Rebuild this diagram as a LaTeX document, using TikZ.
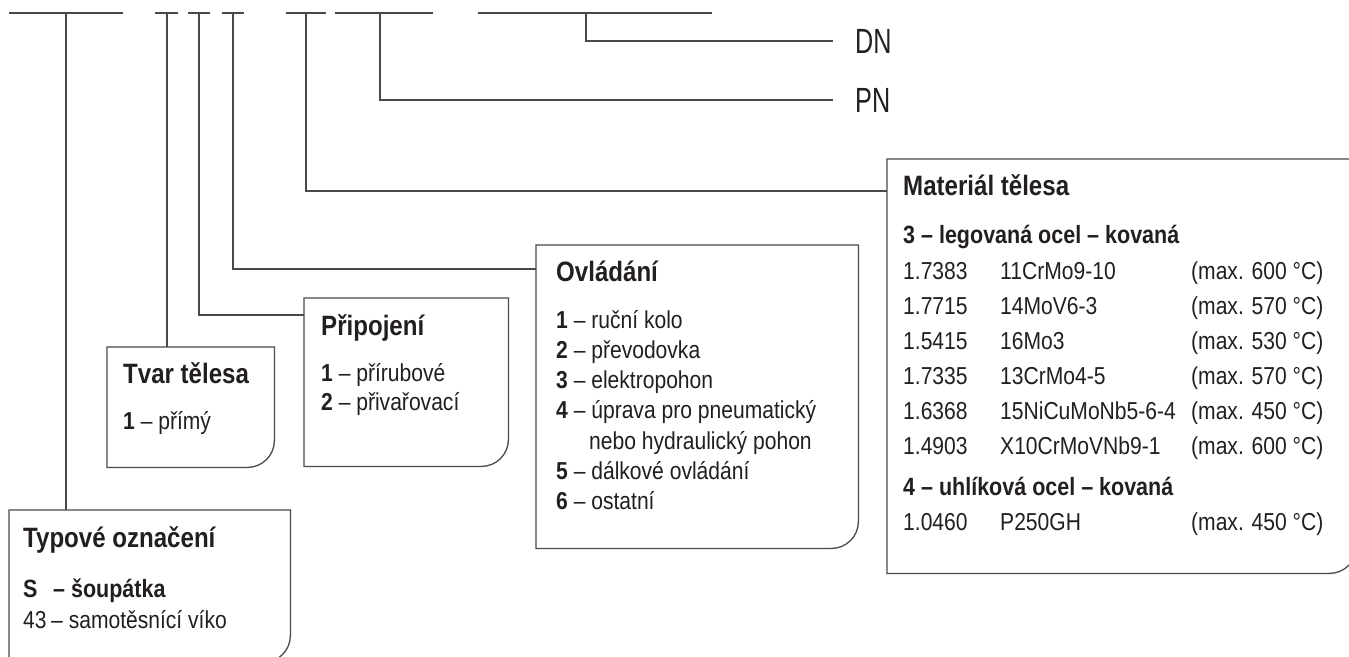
\documentclass[tikz,border=0pt]{standalone}
\usepackage{fontspec}
\setmainfont[FakeStretch=0.86]{Liberation Sans}
\newfontfamily\dnfont[FakeStretch=0.72]{Liberation Sans}
\definecolor{ink}{HTML}{231F20}
\definecolor{wire}{HTML}{4A4A4A}
\begin{document}
\begin{tikzpicture}[x=1pt,y=-1pt,
  wireline/.style={draw=wire,line width=1.3pt},
  boxarea/.style={draw=none,inner sep=0pt,anchor=north west},
  body/.style={font=\fontsize{24.5}{29}\selectfont,text=ink,anchor=base west,inner sep=0pt},
  headline/.style={font=\fontsize{28}{33}\selectfont\bfseries,text=ink,anchor=base west,inner sep=0pt},
  subhead/.style={font=\fontsize{25}{30}\selectfont\bfseries,text=ink,anchor=base west,inner sep=0pt},
  bigcode/.style={font=\dnfont\fontsize{35}{40}\selectfont,text=ink,anchor=base west,inner sep=0pt}]
\useasboundingbox (0,0) rectangle (1349,656);
\fill[white] (0,0) rectangle (1349,656);

% top line segments
\foreach \n/\l/\r/\t in {A/9/123/66,B/155/178/167,C/188/210/199,D/222/244/233,E/286/326/306,F/335/433/380,G/478/712/586}{
  \coordinate (seg\n l) at (\l,13);
  \coordinate (seg\n r) at (\r,13);
  \coordinate (tap\n) at (\t,13);
  \draw[wireline] (seg\n l) -- (seg\n r);
}

% box areas
\node[boxarea,minimum width=281pt,minimum height=152pt] (typ) at (9,510) {};
\node[boxarea,minimum width=167pt,minimum height=120pt] (tvar) at (107,347) {};
\node[boxarea,minimum width=204pt,minimum height=168pt] (pri) at (304,298) {};
\node[boxarea,minimum width=322pt,minimum height=303pt] (ovl) at (536,245) {};
\node[boxarea,minimum width=469pt,minimum height=414pt] (mat) at (887,159) {};

% box outlines with rounded lower right corner
\foreach \b in {typ,tvar,pri,ovl,mat}{
  \draw[wireline] (\b.north west) -- (\b.north east) -- ([yshift=27pt]\b.south east)
    .. controls ([yshift=12pt]\b.south east) and ([xshift=-12pt]\b.south east) ..
    ([xshift=-27pt]\b.south east) -- (\b.south west) -- cycle;
}

% connector end points
\coordinate (priin) at (304,315);
\coordinate (ovlin) at (536,269);
\coordinate (matin) at (887,191);
\coordinate (pnend) at (833,100);
\coordinate (dnend) at (833,41);

\draw[wireline] (tapA) -- (tapA |- typ.north);
\draw[wireline] (tapB) -- (tapB |- tvar.north);
\draw[wireline] (tapC) |- (priin);
\draw[wireline] (tapD) |- (ovlin);
\draw[wireline] (tapE) |- (matin);
\draw[wireline] (tapF) |- (pnend);
\draw[wireline] (tapG) |- (dnend);

\node[bigcode] (dn) at (855,53) {DN};
\node[bigcode] (pn) at (855,112) {PN};

% Typove oznaceni
\node[headline] (typt) at (23,547) {Typové označení};
\node[subhead] (typs) at (23,597) {S};
\node[subhead] (typsd) at (53,597) {– šoupátka};
\node[body] (typ43) at (23,628) {43};
\node[body] (typ43d) at (51,628) {– samotěsnící víko};

% Tvar telesa
\node[headline] (tvart) at (123,383) {Tvar tělesa};
\node[body] (tvar1) at (123,429) {\textbf{1} – přímý};

% Pripojeni
\node[headline] (prit) at (321,335) {Připojení};
\node[body] (pri1) at (321,381) {\textbf{1} – přírubové};
\node[body] (pri2) at (321,410) {\textbf{2} – přivařovací};

% Ovladani
\node[headline] (ovlt) at (556,281) {Ovládání};
\node[body] (ovl1) at (556,328) {\textbf{1} – ruční kolo};
\node[body] (ovl2) at (556,358) {\textbf{2} – převodovka};
\node[body] (ovl3) at (556,388) {\textbf{3} – elektropohon};
\node[body] (ovl4) at (556,418) {\textbf{4} – úprava pro pneumatický};
\node[body] (ovl4b) at (589,449) {nebo hydraulický pohon};
\node[body] (ovl5) at (556,479) {\textbf{5} – dálkové ovládání};
\node[body] (ovl6) at (556,509) {\textbf{6} – ostatní};

% Material telesa
\node[headline] (matt) at (903,195) {Materiál tělesa};
\node[subhead] (mats3) at (903,243) {3 – legovaná ocel – kovaná};
\foreach \i/\y/\a/\c/\t in {1/279/1.7383/11CrMo9-10/600,2/314/1.7715/14MoV6-3/570,3/349/1.5415/16Mo3/530,4/384/1.7335/13CrMo4-5/570,5/419/1.6368/15NiCuMoNb5-6-4/450,6/454/1.4903/X10CrMoVNb9-1/600,7/530/1.0460/P250GH/450}{
  \node[body] (mat\i a) at (903,\y) {\a};
  \node[body] (mat\i b) at (1000,\y) {\c};
  \node[body] (mat\i c) at (1191,\y) {(max. \t\ °C)};
}
\node[subhead] (mats4) at (903,495) {4 – uhlíková ocel – kovaná};
\end{tikzpicture}
\end{document}
